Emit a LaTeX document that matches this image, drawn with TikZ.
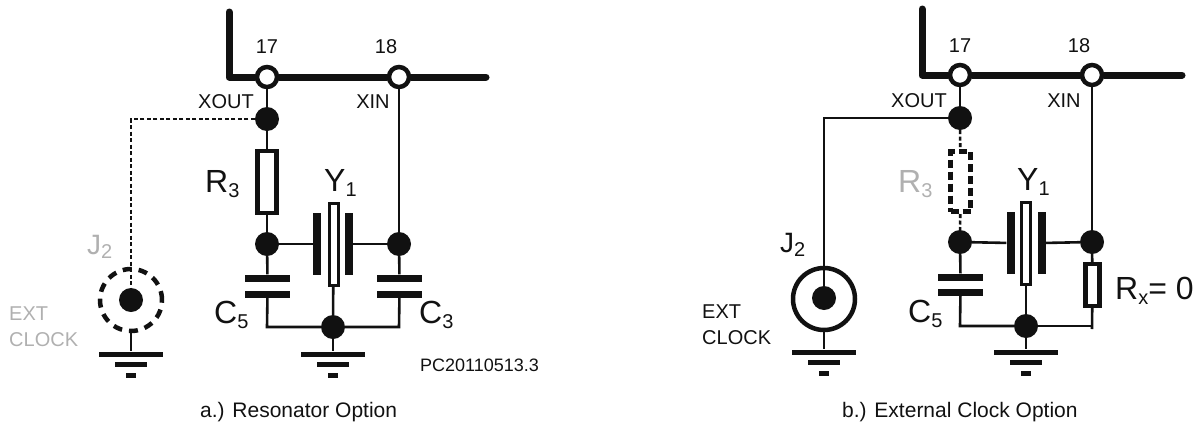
\documentclass[tikz,border=0pt]{standalone}
\usepackage{fontspec}
\setmainfont{Liberation Sans}
\newcommand{\fs}[1]{\fontsize{#1}{#1}\selectfont}
\definecolor{ink}{HTML}{111111}
\definecolor{ghost}{HTML}{B0B0B0}
\tikzset{
  x=1pt,y=-1pt,
  bus/.style={line width=7pt,line cap=round,line join=round,ink},
  wire/.style={line width=2.6pt,ink},
  dotwire/.style={line width=2.6pt,ink,dash pattern=on 4pt off 2.5pt},
  pin/.style={circle,draw=ink,fill=white,line width=4.5pt,minimum size=20pt,inner sep=0pt},
  jn/.style={circle,fill=ink,minimum size=24pt,inner sep=0pt},
  res/.style={rectangle,draw=ink,fill=white,line width=4.4pt,inner sep=0pt},
  dashres/.style={rectangle,draw=ink,fill=white,line width=5pt,inner sep=0pt,dash pattern=on 8pt off 4pt},
  plate/.style={rectangle,fill=ink,inner sep=0pt},
  hplate/.style={plate,minimum width=45pt,minimum height=7pt},
  vplate/.style={plate,minimum width=8pt,minimum height=62pt},
  quartz/.style={rectangle,draw=ink,fill=white,line width=3pt,inner sep=0pt,minimum width=9pt,minimum height=82pt},
  gbar/.style={plate,minimum height=5pt},
  ring/.style={circle,draw=ink,line width=4.5pt,minimum size=62pt,inner sep=0pt},
  dashring/.style={ring,dash pattern=on 9pt off 7pt},
  big/.style={ink,inner sep=0pt,font=\fs{32}},
  small/.style={ink,inner sep=0pt,font=\fs{20}},
  captext/.style={ink,inner sep=0pt,font=\fs{18}},
  titletext/.style={ink,inner sep=0pt,font=\fs{21},anchor=base west}
}
\newcommand{\gnd}[3]{%
  \node[gbar,minimum width=64pt] (#1a) at (#2,#3) {};
  \node[gbar,minimum width=32pt] (#1b) at (#2,#3+10) {};
  \node[gbar,minimum width=10pt] (#1c) at (#2,#3+21) {};
}
\newcommand{\subs}[1]{\raisebox{-0.3ex}{\fs{20}#1}}
\begin{document}
\begin{tikzpicture}
\useasboundingbox (0,0) rectangle (1195,421);
% ---------- panel a ----------
\coordinate (atop) at (229,12);
\coordinate (acorner) at (229,77);
\coordinate (aend) at (486,77);
\coordinate (awest) at (131,119);
\node[pin] (a17) at (267,77) {};
\node[pin] (a18) at (399,77) {};
\node[jn] (aout) at (267,119) {};
\node[res,minimum width=19pt,minimum height=62pt] (ar3) at (267,182) {};
\node[jn] (al) at (267,244) {};
\node[jn] (ar) at (399,244) {};
\node[hplate] (ac5a) at (267.5,278) {};
\node[hplate] (ac5b) at (267.5,294) {};
\node[hplate] (ac3a) at (399.5,278) {};
\node[hplate] (ac3b) at (399.5,294) {};
\node[quartz] (ay) at (333.5,244.5) {};
\node[vplate] (ayl) at (317,244) {};
\node[vplate] (ayr) at (349,244) {};
\node[jn] (ag) at (333,327) {};
\coordinate (ac5c) at (267,327);
\coordinate (ac3c) at (399,327);
\gnd{agn}{333}{354}
\gnd{ajg}{131}{354}
\node[dashring,draw=ink] (aj) at (131,300) {};
\node[jn] (ajd) at (131,300) {};
\draw[bus] (atop) -- (acorner) -- (a17);
\draw[bus] (a17) -- (a18);
\draw[bus] (a18) -- (aend);
\draw[wire] (a17) -- (aout);
\draw[wire] (aout) -- (ar3);
\draw[wire] (ar3) -- (al);
\draw[wire] (al) -- (ac5a);
\draw[wire] (ac5b) -- (ac5c) -- (ag);
\draw[wire] (ag) -- (ac3c) -- (ac3b);
\draw[wire] (ac3a) -- (ar);
\draw[wire] (ar) -- (a18);
\draw[wire] (al) -- (ayl);
\draw[wire] (ayr) -- (ar);
\draw[wire] (ay) -- (ag);
\draw[wire] (ag) -- (agna);
\draw[dotwire] (aout) -- (awest) -- (ajd);
\draw[wire] (aj) -- (ajga);
\node[small] (a17t) at (267,47) {17};
\node[small] (a18t) at (386,47) {18};
\node[small] (axo) at (226,102) {XOUT};
\node[small] (axi) at (373,102) {XIN};
\node[big,anchor=west] (ar3t) at (205,184) {R\subs{3}};
\node[big,anchor=west] (ay1t) at (324,183) {Y\subs{1}};
\node[big,anchor=west,ghost,font=\fs{28}] (ajt) at (87,247) {J\subs{2}};
\node[big,anchor=west] (ac5t) at (214,315) {C\subs{5}};
\node[big,anchor=west] (ac3t) at (419,315) {C\subs{3}};
\node[small,ghost,anchor=west] (aext) at (9,314) {EXT};
\node[small,ghost,anchor=west] (aclk) at (9,340) {CLOCK};
\node[captext,anchor=west] (apc) at (420,365) {PC20110513.3};
\node[titletext] (acap) at (200,417) {a.) Resonator Option};
% ---------- panel b ----------
\coordinate (btop) at (922,9);
\coordinate (bcorner) at (922,75);
\coordinate (bend) at (1182,75);
\coordinate (bwest) at (824,118);
\node[pin] (b17) at (960,75) {};
\node[pin] (b18) at (1092,75) {};
\node[jn] (bout) at (960,118) {};
\node[dashres,minimum width=20pt,minimum height=60pt] (br3) at (960.5,181.5) {};
\node[jn] (bl) at (960,242) {};
\node[jn] (br) at (1092,242) {};
\node[hplate] (bc5a) at (960.5,277) {};
\node[hplate] (bc5b) at (960.5,292) {};
\node[res,minimum width=14pt,minimum height=42pt] (brx) at (1092.5,285) {};
\node[quartz] (by) at (1026,243) {};
\node[vplate] (byl) at (1010.5,243) {};
\node[vplate] (byr) at (1042,243) {};
\node[jn] (bg) at (1026,326) {};
\coordinate (bc5c) at (960,326);
\coordinate (brxc) at (1092,326);
\coordinate (brxd) at (1092,329);
\gnd{bgn}{1026}{352}
\gnd{bjg}{824}{352}
\node[ring] (bj) at (824,299) {};
\node[jn] (bjd) at (824,298) {};
\draw[bus] (btop) -- (bcorner) -- (b17);
\draw[bus] (b17) -- (b18);
\draw[bus] (b18) -- (bend);
\draw[wire] (b17) -- (bout);
\draw[dotwire] (bout) -- (br3);
\draw[dotwire] (br3) -- (bl);
\draw[wire] (bl) -- (bc5a);
\draw[wire] (bc5b) -- (bc5c) -- (bg);
\draw[wire] (bg) -- (brxc);
\draw[wire] (brx) -- (brxd);
\draw[wire] (brx) -- (br);
\draw[wire] (br) -- (b18);
\draw[wire] (bl) -- (byl);
\draw[wire] (byr) -- (br);
\draw[wire] (by) -- (bg);
\draw[wire] (bg) -- (bgna);
\draw[wire] (bout) -- (bwest) -- (bjd);
\draw[wire] (bj) -- (bjga);
\node[small] (b17t) at (960,46) {17};
\node[small] (b18t) at (1079,46) {18};
\node[small] (bxo) at (919,101) {XOUT};
\node[small] (bxi) at (1064,101) {XIN};
\node[big,anchor=west,ghost] (br3t) at (898,184) {R\subs{3}};
\node[big,anchor=west] (by1t) at (1017,182) {Y\subs{1}};
\node[big,anchor=west,font=\fs{28}] (bjt) at (780,245) {J\subs{2}};
\node[big,anchor=west] (bc5t) at (908,314) {C\subs{5}};
\node[big,anchor=west] (brxt) at (1115,291) {R\subs{x}= 0};
\node[small,anchor=west] (bext) at (702,312) {EXT};
\node[small,anchor=west] (bclk) at (702,338) {CLOCK};
\node[titletext] (bcap) at (842,417) {b.) External Clock Option};
\end{tikzpicture}
\end{document}
